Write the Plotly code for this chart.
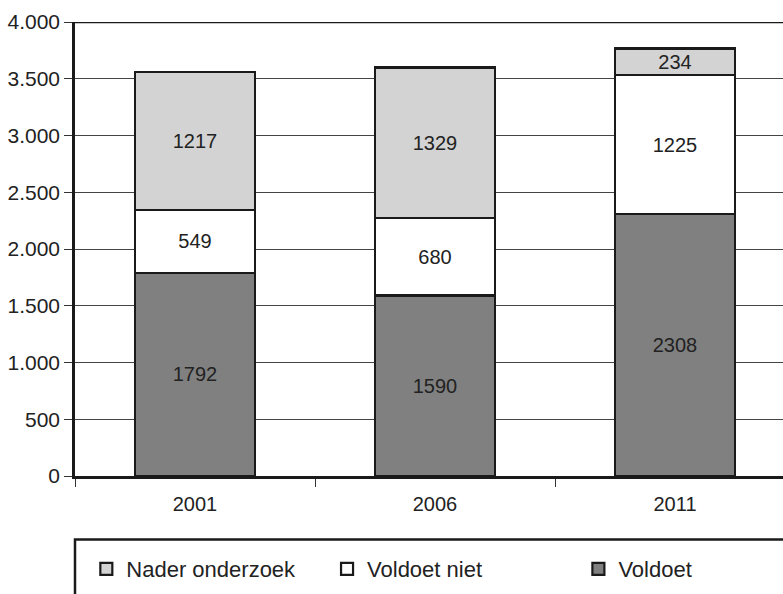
import plotly.graph_objects as go

years = ["2001", "2006", "2011"]
voldoet = [1792, 1590, 2308]
voldoet_niet = [549, 680, 1225]
nader = [1217, 1329, 234]
y_ticks = [0, 500, 1000, 1500, 2000, 2500, 3000, 3500, 4000]

pos = list(range(len(years)))
FONT = "Liberation Sans, Arial, sans-serif"

def bar(name, vals, color, legend):
    return go.Bar(
        name=name, x=pos, y=vals, width=0.5, legend=legend,
        marker=dict(color=color, line=dict(color="#1a1a1a", width=2.2)),
        text=[str(v) for v in vals], texttemplate="%{text}",
        textposition="inside", insidetextanchor="middle", textangle=0,
        textfont=dict(size=20, color="#222222", family=FONT),
        hoverinfo="skip",
    )

fig = go.Figure([
    bar("Voldoet", voldoet, "#808080", "legend3"),
    bar("Voldoet niet", voldoet_niet, "#ffffff", "legend2"),
    bar("Nader onderzoek", nader, "#d3d3d3", "legend"),
])

def leg(x):
    return dict(x=x, xanchor="left", y=-0.205, yanchor="middle",
                orientation="h", font=dict(size=22, family=FONT, color="#222222"),
                bgcolor="rgba(0,0,0,0)")

fig.update_layout(
    width=783, height=594,
    margin=dict(l=75, r=0, t=22, b=118),
    barmode="stack",
    plot_bgcolor="white", paper_bgcolor="white",
    separators=",.",
    font=dict(family=FONT, size=19, color="#222222"),
    uniformtext=dict(mode="show", minsize=20),
    showlegend=True,
    legend=leg(0.016),
    legend2=leg(0.356),
    legend3=leg(0.711),
    xaxis=dict(
        range=[-0.5, 2.45], tickvals=pos, ticktext=years, ticks="",
        showline=True, linecolor="#1a1a1a", linewidth=2.5, showgrid=False,
        zeroline=False, tickfont=dict(size=20), automargin=False,
        ticklabelstandoff=8,
        minor=dict(tickvals=[-0.5, 0.5, 1.5], ticks="outside", ticklen=8,
                   tickcolor="#333333", tickwidth=1, showgrid=False),
    ),
    yaxis=dict(
        range=[0, 4000], tickvals=y_ticks, tickformat=",d",
        ticks="outside", ticklen=8, tickcolor="#333333",
        showline=True, linecolor="#1a1a1a", linewidth=2.5,
        showgrid=True, gridcolor="#444444", gridwidth=1, zeroline=False,
        tickfont=dict(size=21), automargin=False,
    ),
    shapes=[
        dict(type="line", xref="paper", yref="y", x0=0, x1=1.05, y0=4000, y1=4000,
             line=dict(color="#1a1a1a", width=2.5)),
        dict(type="rect", xref="paper", yref="paper", x0=0, x1=1.1, y0=-0.14, y1=-0.5,
             line=dict(color="#1a1a1a", width=2.5), fillcolor="rgba(0,0,0,0)"),
    ],
)

fig.write_html("out.html", config={"displayModeBar": False},
               post_script="document.body.style.margin='0';")
